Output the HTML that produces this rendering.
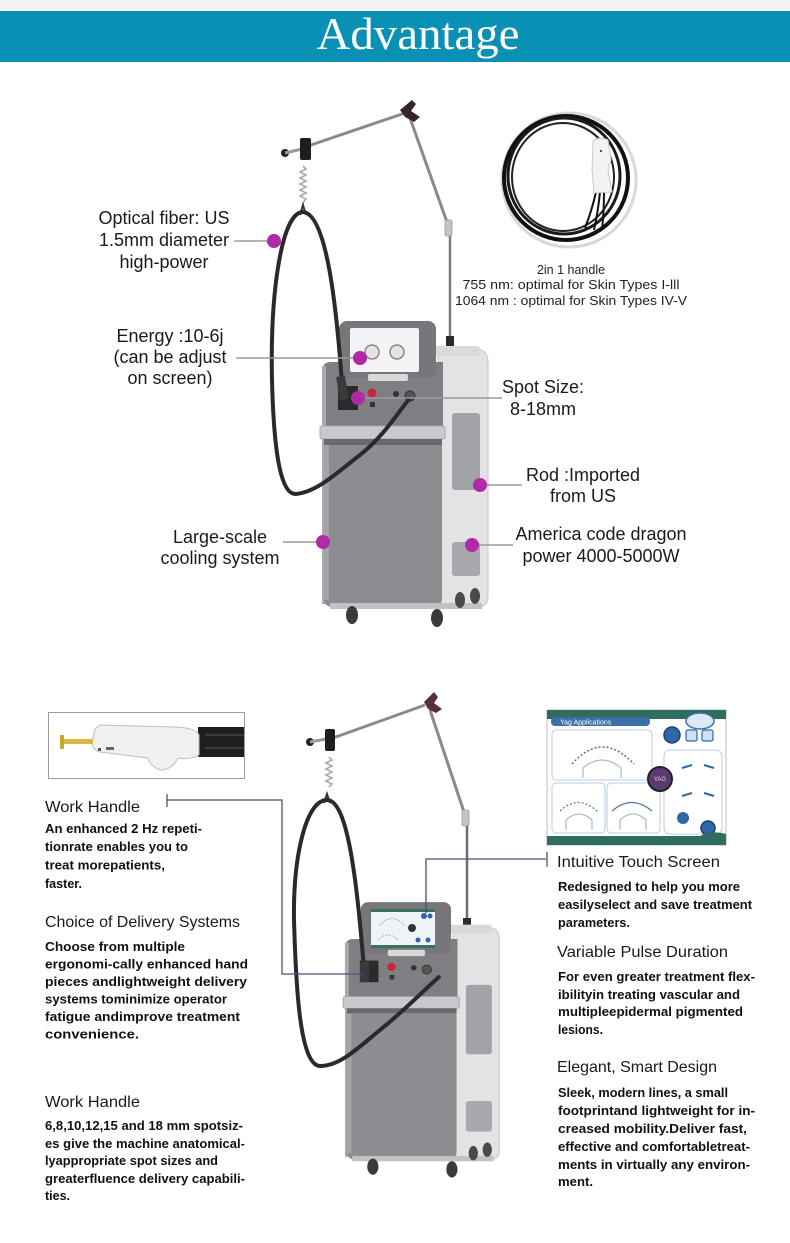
<!DOCTYPE html>
<html>
<head>
<meta charset="utf-8">
<style>
html,body{margin:0;padding:0;background:#fff;}
body{width:790px;height:1243px;overflow:hidden;}
svg{display:block;}
.lbl{font-family:"Liberation Sans",Arial,sans-serif;font-size:18px;fill:#1a1a1a;text-anchor:middle;}
.cap{font-family:"Liberation Sans",Arial,sans-serif;font-size:12.5px;fill:#222;text-anchor:middle;}
.hd{font-family:"Liberation Sans",Arial,sans-serif;font-size:16px;fill:#1a1a1a;}
.bd{font-family:"Liberation Sans",Arial,sans-serif;font-size:13px;font-weight:bold;fill:#111;}
</style>
</head>
<body>
<svg width="790" height="1243" viewBox="0 0 790 1243" xmlns="http://www.w3.org/2000/svg">
<defs>
  <g id="mach">
    <!-- right side panel -->
    <path d="M438 352 L478 349 Q488 351 488 362 L488 596 Q488 607 478 607 L440 607 Z" fill="#e3e3e6" stroke="#c4c4c8" stroke-width="1"/>
    <rect x="400" y="346" width="80" height="10" rx="3" fill="#d9d9dc"/>
    <!-- front upper control area -->
    <path d="M331 362 L443 362 L443 428 L322 428 L322 372 Q322 362 331 362 Z" fill="#7e7e83"/>
    <rect x="322" y="366" width="4" height="238" fill="#aaaaaf"/>
    <!-- silver bar -->
    <rect x="320" y="426" width="125" height="13" rx="2" fill="#c9c9cd" stroke="#a8a8ac" stroke-width="1"/>
    <rect x="324" y="439" width="118" height="6" fill="#6a6a6e"/>
    <!-- lower front -->
    <path d="M324 445 L442 445 L442 598 Q442 607 433 607 L333 607 Q324 607 324 598 Z" fill="#8c8c91"/>
    <rect x="324" y="445" width="5" height="155" fill="#a3a3a8"/>
    <!-- controls -->
    <rect x="338" y="386" width="20" height="24" fill="#2a2a2c"/>
    <circle cx="372" cy="393" r="4.5" fill="#c8283a"/>
    <rect x="370" y="402" width="5" height="5" fill="#333"/>
    <circle cx="396" cy="394" r="3" fill="#333"/>
    <circle cx="410" cy="396" r="5" fill="#555" stroke="#333" stroke-width="1"/>
    <!-- windows -->
    <rect x="452" y="413" width="28" height="77" rx="3" fill="#a2a2a7"/>
    <rect x="452" y="542" width="28" height="34" rx="3" fill="#a9a9ad"/>
    <!-- base -->
    <rect x="330" y="603" width="152" height="6" fill="#c2c2c5"/>
    <!-- wheels -->
    <ellipse cx="352" cy="615" rx="6" ry="9" fill="#3a3a3c"/>
    <ellipse cx="437" cy="618" rx="6" ry="9" fill="#3a3a3c"/>
    <ellipse cx="460" cy="600" rx="5" ry="8" fill="#4a4a4c"/>
    <ellipse cx="475" cy="596" rx="5" ry="8" fill="#4a4a4c"/>
    <!-- screen frame -->
    <rect x="339" y="321" width="97" height="57" rx="8" fill="#76767b"/>
    <rect x="368" y="374" width="40" height="7" rx="2" fill="#d8d8da"/>
  </g>
</defs>

<!-- HEADER -->
<rect x="0" y="0" width="790" height="11" fill="#f2f2f4"/>
<rect x="0" y="11" width="790" height="51" fill="#0891b4"/>
<text x="418" y="49" font-family="'Liberation Serif',serif" font-size="46" fill="#fff" text-anchor="middle" textLength="203" lengthAdjust="spacingAndGlyphs">Advantage</text>

<!-- ================= TOP MACHINE ================= -->
<!-- arm -->
<line x1="308" y1="146" x2="405" y2="113" stroke="#8a8a8e" stroke-width="3"/>
<line x1="410" y1="118" x2="448" y2="225" stroke="#8a8a8e" stroke-width="3"/>
<rect x="445" y="220" width="7" height="16" rx="2" fill="#c4c4c8" stroke="#999" stroke-width="0.8"/>
<line x1="450" y1="236" x2="450" y2="346" stroke="#7a7a7e" stroke-width="2.5"/>
<rect x="446" y="336" width="8" height="10" fill="#2c2c2e"/>
<circle cx="285" cy="153" r="4" fill="#222"/>
<line x1="285" y1="153" x2="302" y2="149" stroke="#999" stroke-width="3"/>
<rect x="300" y="138" width="11" height="22" rx="2" fill="#1e1e20"/>
<path d="M400 110 L412 100 L416 104 L411 111 L420 117 L414 122 L405 117 Z" fill="#3a2326"/>
<!-- spring -->
<path d="M303 166 L306 169 L300 172 L306 175 L300 178 L306 181 L300 184 L306 187 L300 190 L306 193 L300 196 L306 199 L303 203" stroke="#aaa" stroke-width="1.6" fill="none"/>
<path d="M300 215 L303 205 L306 215" stroke="#333" stroke-width="2" fill="none"/>

<!-- machine top -->
<use href="#mach"/>
<rect x="350" y="328" width="69" height="44" rx="2" fill="#f4f4f6"/>
<circle cx="372" cy="352" r="7" fill="#eadfe2" stroke="#8a8a8e" stroke-width="1.5"/>
<circle cx="397" cy="352" r="7" fill="#eadfe2" stroke="#8a8a8e" stroke-width="1.5"/>

<!-- fiber loop top -->
<path d="M342 384 C336 300 326 214 303 212 C282 212 270 290 272 380 C274 460 282 495 296 494 C318 492 340 470 360 455 C385 435 398 412 410 398" stroke="#2a2a2c" stroke-width="4" fill="none"/>
<rect x="338" y="376" width="9" height="24" rx="2" fill="#3a3a3c" transform="rotate(-10 342 388)"/>

<!-- label lines top -->
<g stroke="#9a9a9e" stroke-width="1.5">
  <line x1="234" y1="241" x2="274" y2="241"/>
  <line x1="236" y1="358" x2="360" y2="358"/>
  <line x1="358" y1="398" x2="502" y2="398"/>
  <line x1="480" y1="485" x2="522" y2="485"/>
  <line x1="472" y1="545" x2="513" y2="545"/>
  <line x1="283" y1="542" x2="323" y2="542"/>
</g>
<g fill="#b02aa6">
  <circle cx="274" cy="241" r="7"/>
  <circle cx="360" cy="358" r="7"/>
  <circle cx="358" cy="398" r="7"/>
  <circle cx="480" cy="485" r="7"/>
  <circle cx="472" cy="545" r="7"/>
  <circle cx="323" cy="542" r="7"/>
</g>

<!-- labels top -->
<text class="lbl" x="164" y="224">Optical fiber: US</text>
<text class="lbl" x="164" y="246">1.5mm diameter</text>
<text class="lbl" x="164" y="268">high-power</text>
<text class="lbl" x="170" y="342">Energy :10-6j</text>
<text class="lbl" x="170" y="363">(can be adjust</text>
<text class="lbl" x="170" y="384">on screen)</text>
<text class="lbl" x="220" y="543">Large-scale</text>
<text class="lbl" x="220" y="564">cooling system</text>
<text class="lbl" x="543" y="393">Spot Size:</text>
<text class="lbl" x="543" y="415">8-18mm</text>
<text class="lbl" x="583" y="481">Rod :Imported</text>
<text class="lbl" x="583" y="502">from US</text>
<text class="lbl" x="601" y="540">America code dragon</text>
<text class="lbl" x="601" y="562">power 4000-5000W</text>

<!-- handle inset top -->
<circle cx="569" cy="180" r="67" fill="#fff" stroke="#d8d8da" stroke-width="3"/>
<ellipse cx="566" cy="178" rx="62" ry="62" stroke="#111" stroke-width="4" fill="none"/>
<ellipse cx="564" cy="176" rx="56" ry="58" stroke="#1a1a1a" stroke-width="3" fill="none"/>
<ellipse cx="563" cy="177" rx="51" ry="54" stroke="#222" stroke-width="2" fill="none"/>
<path d="M596 192 Q592 210 585 228 M600 192 Q598 212 594 230 M604 192 Q604 212 602 230" stroke="#111" stroke-width="2" fill="none"/>
<path d="M593 141 Q600 136 608 140 L611 160 Q606 170 610 180 L612 192 L594 193 L592 170 Z" fill="#f3f3f3" stroke="#c8c8c8" stroke-width="1"/>
<circle cx="601" cy="151" r="1.2" fill="#555"/>
<text class="cap" x="571" y="274">2in 1 handle</text>
<text class="cap" x="571" y="289" textLength="217" lengthAdjust="spacingAndGlyphs">755 nm: optimal for Skin Types I-lll</text>
<text class="cap" x="571" y="305" textLength="232" lengthAdjust="spacingAndGlyphs">1064 nm : optimal for Skin Types IV-V</text>

<!-- ================= BOTTOM MACHINE ================= -->
<line x1="333" y1="738" x2="425" y2="705" stroke="#8a8a8e" stroke-width="3"/>
<line x1="430" y1="710" x2="465" y2="815" stroke="#8a8a8e" stroke-width="3"/>
<rect x="462" y="810" width="7" height="16" rx="2" fill="#c4c4c8" stroke="#999" stroke-width="0.8"/>
<line x1="467" y1="826" x2="467" y2="928" stroke="#6e6e72" stroke-width="2.5"/>
<rect x="463" y="918" width="8" height="10" fill="#2c2c2e"/>
<circle cx="310" cy="742" r="4" fill="#222"/>
<line x1="310" y1="742" x2="326" y2="739" stroke="#999" stroke-width="3"/>
<rect x="325" y="729" width="10" height="22" rx="2" fill="#1e1e20"/>
<path d="M424 702 L434 692 L438 697 L434 703 L442 709 L436 713 L428 709 Z" fill="#5a2f35"/>
<path d="M329 757 L332 760 L326 763 L332 766 L326 769 L332 772 L326 775 L332 778 L326 781 L332 784 L329 787" stroke="#aaa" stroke-width="1.6" fill="none"/>
<path d="M324 803 L327 794 L330 803" stroke="#333" stroke-width="2" fill="none"/>

<use href="#mach" transform="translate(45.5,613.2) scale(0.93,0.9)"/>
<!-- bottom machine screen -->
<rect x="371" y="909" width="64" height="39" rx="2" fill="#eef3f8"/>
<rect x="371" y="909" width="64" height="3" fill="#3a7060"/>
<rect x="371" y="945" width="64" height="3" fill="#3a7060"/>
<path d="M380 925 Q392 912 404 925" stroke="#8aa0b8" stroke-width="1" stroke-dasharray="1.5 1.5" fill="none"/>
<path d="M378 940 Q388 930 398 940" stroke="#8aa0b8" stroke-width="1" stroke-dasharray="1.5 1.5" fill="none"/>
<circle cx="412" cy="928" r="4" fill="#3a3040"/>
<circle cx="424" cy="916" r="3" fill="#2f66a8"/>
<circle cx="430" cy="916" r="2.5" fill="#2f66a8"/>
<circle cx="428" cy="940" r="2.5" fill="#2f66a8"/>
<circle cx="418" cy="940" r="2.5" fill="#2f66a8"/>

<!-- fiber loop bottom -->
<path d="M364 968 C358 900 350 800 327 800 C305 800 293 860 294 920 C296 990 300 1065 320 1066 C340 1066 358 1048 380 1030 C405 1010 422 992 440 976" stroke="#2a2a2c" stroke-width="4" fill="none"/>
<rect x="360" y="962" width="9" height="20" rx="2" fill="#3a3a3c"/>

<!-- connector lines bottom -->
<g stroke="#4b5275" stroke-width="1.3" fill="none">
  <line x1="167" y1="794" x2="167" y2="807"/>
  <polyline points="167,800 282,800 282,974 363,974"/>
  <line x1="547" y1="852" x2="547" y2="867"/>
  <polyline points="546,859 426,859 426,913"/>
</g>

<!-- handle inset bottom-left -->
<rect x="48.5" y="712.5" width="196" height="66" fill="#fff" stroke="#9c9c9c" stroke-width="1"/>
<rect x="198" y="727" width="46" height="30" fill="#1f1f21"/>
<line x1="205" y1="735" x2="244" y2="735" stroke="#555" stroke-width="1"/>
<line x1="205" y1="748" x2="244" y2="748" stroke="#555" stroke-width="1"/>
<path d="M95 729 L100 725 L176 727 Q196 728 199 735 L199 755 Q190 760 178 758 Q172 770 160 770 Q150 766 148 758 L100 752 Q92 750 92 742 Z" fill="#f0f0f0" stroke="#bdbdbd" stroke-width="1"/>
<rect x="60" y="735" width="4" height="14" rx="1" fill="#c9a52a"/>
<rect x="64" y="739" width="29" height="5" fill="#d8b840"/>
<rect x="98" y="748" width="3" height="3" fill="#555"/>
<rect x="106" y="747" width="8" height="3" fill="#666"/>

<!-- touch screen inset -->
<rect x="547" y="710" width="179" height="135" fill="#fff" stroke="#bbb" stroke-width="1"/>
<rect x="547" y="710" width="179" height="9" fill="#2f6e5e"/>
<rect x="551" y="717" width="99" height="9" rx="4" fill="#3a6fa8"/>
<text x="560" y="724.5" font-family="'Liberation Sans',sans-serif" font-size="7" fill="#fff">Yag Applications</text>
<ellipse cx="700" cy="721" rx="14" ry="8" fill="#dde8f5" stroke="#3a6fa8" stroke-width="1.5"/>
<g stroke="#b8cde0" stroke-width="1" fill="none">
  <rect x="552" y="730" width="100" height="50" rx="4"/>
  <rect x="552" y="783" width="53" height="50" rx="4"/>
  <rect x="607" y="783" width="53" height="50" rx="4"/>
  <rect x="664" y="750" width="58" height="84" rx="6"/>
</g>
<path d="M572 764 Q602 730 634 764" stroke="#5070a0" stroke-width="1.5" stroke-dasharray="2 2" fill="none"/>
<path d="M583 778 L583 768 Q602 752 621 768 L621 778" stroke="#9ab" stroke-width="1" fill="none"/>
<path d="M560 811 Q578 794 597 811" stroke="#5070a0" stroke-width="1.2" stroke-dasharray="2 2" fill="none"/>
<path d="M612 811 Q632 794 652 811" stroke="#5070a0" stroke-width="1.2" fill="none"/>
<path d="M566 830 L566 820 Q579 808 592 820 L592 830" stroke="#9ab" stroke-width="1" fill="none"/>
<path d="M620 830 L620 820 Q633 808 646 820 L646 830" stroke="#9ab" stroke-width="1" fill="none"/>
<circle cx="672" cy="735" r="8" fill="#2f66a8" stroke="#1d3f70" stroke-width="1.5"/>
<rect x="686" y="730" width="11" height="11" rx="2" fill="#cfe0f2" stroke="#2f66a8" stroke-width="1.2"/>
<rect x="702" y="730" width="11" height="11" rx="2" fill="#cfe0f2" stroke="#2f66a8" stroke-width="1.2"/>
<circle cx="660" cy="779" r="12" fill="#5a3a70" stroke="#222" stroke-width="2"/>
<text x="660" y="781" font-family="'Liberation Sans',sans-serif" font-size="6" fill="#ddd" text-anchor="middle">YAG</text>
<path d="M682 768 L692 765 M704 765 L714 768 M682 796 L692 793 M704 793 L714 796" stroke="#2f66a8" stroke-width="2"/>
<circle cx="683" cy="818" r="6" fill="#2f66a8"/>
<circle cx="708" cy="828" r="7" fill="#2f66a8" stroke="#1d3f70" stroke-width="1.5"/>
<path d="M547 836 L700 836 Q712 830 726 834 L726 845 L547 845 Z" fill="#2f6e5e"/>

<!-- bottom-left texts -->
<text class="hd" x="45" y="812" textLength="95" lengthAdjust="spacingAndGlyphs">Work Handle</text>
<text class="bd" x="45" y="833" textLength="157" lengthAdjust="spacingAndGlyphs">An enhanced 2 Hz repeti-</text>
<text class="bd" x="45" y="851" textLength="143" lengthAdjust="spacingAndGlyphs">tionrate enables you to</text>
<text class="bd" x="45" y="869.5" textLength="120" lengthAdjust="spacingAndGlyphs">treat morepatients,</text>
<text class="bd" x="45" y="888" textLength="37" lengthAdjust="spacingAndGlyphs">faster.</text>

<text class="hd" x="45" y="927" textLength="195" lengthAdjust="spacingAndGlyphs">Choice of Delivery Systems</text>
<text class="bd" x="45" y="951" textLength="140" lengthAdjust="spacingAndGlyphs">Choose from multiple</text>
<text class="bd" x="45" y="968.5" textLength="203" lengthAdjust="spacingAndGlyphs">ergonomi-cally enhanced hand</text>
<text class="bd" x="45" y="986" textLength="202" lengthAdjust="spacingAndGlyphs">pieces andlightweight delivery</text>
<text class="bd" x="45" y="1003.5" textLength="182" lengthAdjust="spacingAndGlyphs">systems tominimize operator</text>
<text class="bd" x="45" y="1021" textLength="195" lengthAdjust="spacingAndGlyphs">fatigue andimprove treatment</text>
<text class="bd" x="45" y="1038.5" textLength="94" lengthAdjust="spacingAndGlyphs">convenience.</text>

<text class="hd" x="45" y="1107" textLength="95" lengthAdjust="spacingAndGlyphs">Work Handle</text>
<text class="bd" x="45" y="1130" textLength="198" lengthAdjust="spacingAndGlyphs">6,8,10,12,15 and 18 mm spotsiz-</text>
<text class="bd" x="45" y="1148" textLength="200" lengthAdjust="spacingAndGlyphs">es give the machine anatomical-</text>
<text class="bd" x="45" y="1165" textLength="173" lengthAdjust="spacingAndGlyphs">lyappropriate spot sizes and</text>
<text class="bd" x="45" y="1183" textLength="200" lengthAdjust="spacingAndGlyphs">greaterfluence delivery capabili-</text>
<text class="bd" x="45" y="1200" textLength="25" lengthAdjust="spacingAndGlyphs">ties.</text>

<!-- right column texts -->
<text class="hd" x="557" y="867" textLength="163" lengthAdjust="spacingAndGlyphs">Intuitive Touch Screen</text>
<text class="bd" x="558" y="891" textLength="182" lengthAdjust="spacingAndGlyphs">Redesigned to help you more</text>
<text class="bd" x="558" y="909" textLength="194" lengthAdjust="spacingAndGlyphs">easilyselect and save treatment</text>
<text class="bd" x="558" y="927" textLength="72" lengthAdjust="spacingAndGlyphs">parameters.</text>

<text class="hd" x="557" y="957" textLength="171" lengthAdjust="spacingAndGlyphs">Variable Pulse Duration</text>
<text class="bd" x="558" y="981" textLength="197" lengthAdjust="spacingAndGlyphs">For even greater treatment flex-</text>
<text class="bd" x="558" y="999" textLength="182" lengthAdjust="spacingAndGlyphs">ibilityin treating vascular and</text>
<text class="bd" x="558" y="1016" textLength="185" lengthAdjust="spacingAndGlyphs">multipleepidermal pigmented</text>
<text class="bd" x="558" y="1034" textLength="45" lengthAdjust="spacingAndGlyphs">lesions.</text>

<text class="hd" x="557" y="1072" textLength="160" lengthAdjust="spacingAndGlyphs">Elegant, Smart Design</text>
<text class="bd" x="558" y="1097" textLength="170" lengthAdjust="spacingAndGlyphs">Sleek, modern lines, a small</text>
<text class="bd" x="558" y="1115" textLength="197" lengthAdjust="spacingAndGlyphs">footprintand lightweight for in-</text>
<text class="bd" x="558" y="1133" textLength="189" lengthAdjust="spacingAndGlyphs">creased mobility.Deliver fast,</text>
<text class="bd" x="558" y="1151" textLength="192" lengthAdjust="spacingAndGlyphs">effective and comfortabletreat-</text>
<text class="bd" x="558" y="1169" textLength="192" lengthAdjust="spacingAndGlyphs">ments in virtually any environ-</text>
<text class="bd" x="558" y="1186" textLength="35" lengthAdjust="spacingAndGlyphs">ment.</text>
</svg>
</body>
</html>
